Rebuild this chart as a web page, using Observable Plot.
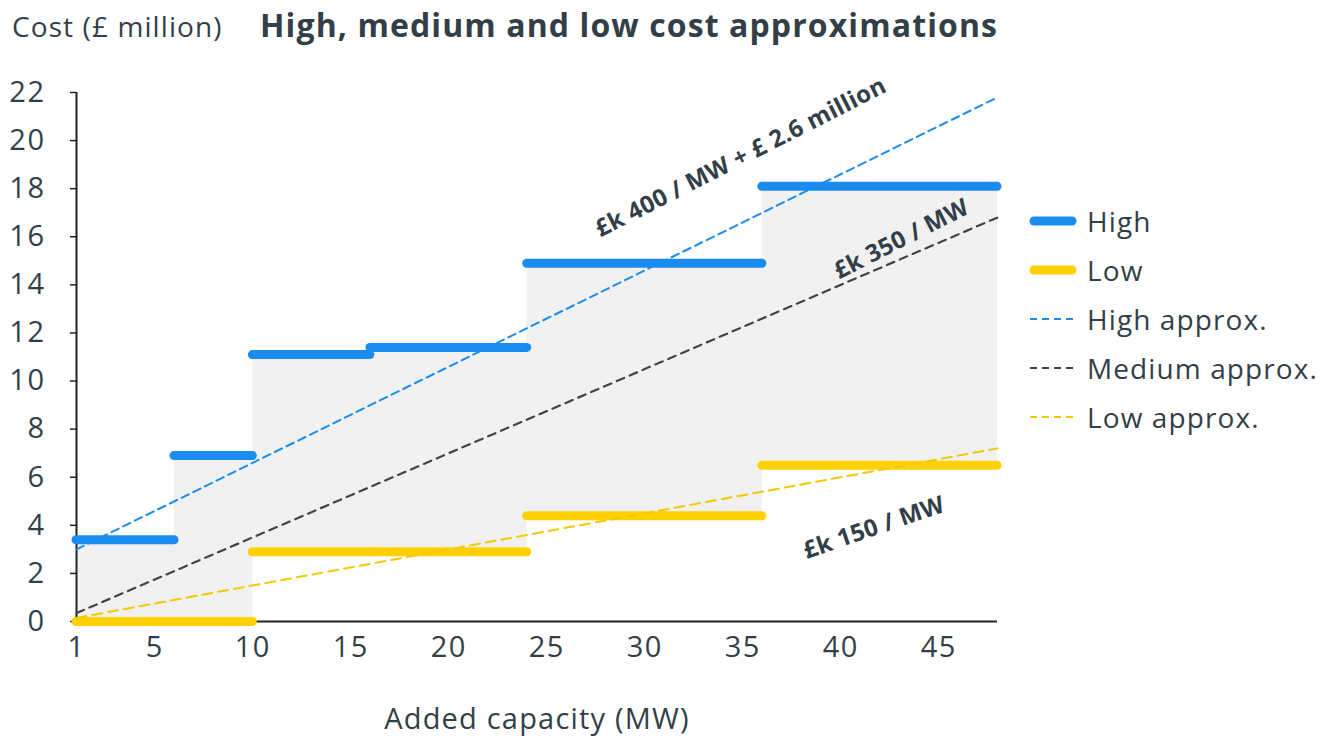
<!DOCTYPE html>
<html>
<head>
<meta charset="utf-8">
<script src="https://cdn.jsdelivr.net/npm/d3@7"></script>
<script src="https://cdn.jsdelivr.net/npm/@observablehq/plot@0.6"></script>
<style>
  body { margin: 0; background: #fff; font-family: "Open Sans", Lato, sans-serif; }
  #wrap { position: relative; width: 1335px; height: 738px; overflow: hidden; }
  .t { position: absolute; color: #333f48; white-space: nowrap; line-height: 1; }
  #legend { position: absolute; left: 1028px; top: 196px; }
  .row { display: flex; align-items: center; height: 49px; font-size: 28px; letter-spacing: 1.1px; color: #333f48; }
  .row svg { margin-right: 9px; }
  #chart { position: absolute; left: 0; top: 0; }
  #chart g[aria-label="y-axis tick label"] text, #chart g[aria-label="x-axis tick label"] text { letter-spacing: 1.5px; }
  #chart g[aria-label="text"] text { letter-spacing: 0.3px; }
</style>
</head>
<body>
<div id="wrap">
  <div class="t" style="left:12px; top:12px; font-size:28px; letter-spacing:1.1px;">Cost (£ million)</div>
  <div class="t" style="left:260px; top:9px; font-size:32px; font-weight:700; letter-spacing:1.1px;">High, medium and low cost approximations</div>
  <div class="t" style="left:537px; top:703px; font-size:29px; letter-spacing:1.2px; transform:translateX(-50%);">Added capacity (MW)</div>
  <div id="chart"></div>
  <div id="legend"></div>
</div>
<script>
// ---- data ----
const segStart = [1, 6, 10, 16, 24, 36];
const segEnd   = [6, 10, 16, 24, 36, 48];
const highCost = [3.4, 6.9, 11.1, 11.4, 14.9, 18.1];
const lowCost  = [0, 0, 2.9, 2.9, 4.4, 6.5];

const approxX      = [1, 48];
const highApprox   = [3.0, 21.8];
const mediumApprox = [0.35, 16.8];
const lowApprox    = [0.15, 7.2];

const xTicks = [1, 5, 10, 15, 20, 25, 30, 35, 40, 45];
const yTicks = [0, 2, 4, 6, 8, 10, 12, 14, 16, 18, 20, 22];

const annText = ["£k 400 / MW + £ 2.6 million", "£k 350 / MW", "£k 150 / MW"];
const annX = [34.9, 43.1, 41.7];
const annY = [19.3, 15.9, 3.9];

const legendLabels = ["High", "Low", "High approx.", "Medium approx.", "Low approx."];

// ---- styles ----
const BLUE = "#1a8cf0", YELLOW = "#ffd100", GREY = "#444", FILL = "#f1f1f1", INK = "#333f48";

// ---- derived tables ----
const segs = segStart.map((s, i) => ({x1: s, x2: segEnd[i], hi: highCost[i], lo: lowCost[i]}));
const areaRows = segStart.map((s, i) => ({x: s, lo: lowCost[i], hi: highCost[i]}));
areaRows.push({x: segEnd[segEnd.length - 1], lo: lowCost[lowCost.length - 1], hi: highCost[highCost.length - 1]});
const approxRows = (arr) => approxX.map((x, i) => ({x, y: arr[i]}));
const ann = annText.map((t, i) => ({t, x: annX[i], y: annY[i]}));

const annStyle = {x: "x", y: "y", text: "t", fontSize: 24, fontWeight: 700, fill: INK};

const chart = Plot.plot({
  width: 1335,
  height: 738,
  marginLeft: 76,
  marginRight: 338,
  marginTop: 92,
  marginBottom: 117,
  style: {fontFamily: "'Open Sans', Lato, sans-serif", fontSize: "29px", color: INK, background: "transparent"},
  x: {domain: [1, 48]},
  y: {domain: [0, 22]},
  marks: [
    Plot.areaY(areaRows, {x: "x", y1: "lo", y2: "hi", curve: "step-after", fill: FILL}),
    Plot.axisY({ticks: yTicks, tickSize: 6, tickPadding: 25, label: null, stroke: "#222", strokeWidth: 1.5}),
    Plot.axisX({ticks: xTicks, tickSize: 0, tickPadding: 15, label: null}),
    Plot.ruleX([1], {y1: 0, y2: 22, stroke: "#222", strokeWidth: 2}),
    Plot.ruleY([0], {x1: 1, x2: 48, stroke: "#222", strokeWidth: 2}),
    Plot.ruleY(segs, {x1: "x1", x2: "x2", y: "lo", stroke: YELLOW, strokeWidth: 9, strokeLinecap: "round"}),
    Plot.ruleY(segs, {x1: "x1", x2: "x2", y: "hi", stroke: BLUE, strokeWidth: 9, strokeLinecap: "round"}),
    Plot.line(approxRows(highApprox), {x: "x", y: "y", stroke: BLUE, strokeWidth: 2, strokeDasharray: "8,5"}),
    Plot.line(approxRows(mediumApprox), {x: "x", y: "y", stroke: GREY, strokeWidth: 2.2, strokeDasharray: "8,6"}),
    Plot.line(approxRows(lowApprox), {x: "x", y: "y", stroke: "#f5c800", strokeWidth: 2, strokeDasharray: "10,6"}),
    Plot.text([ann[0]], {...annStyle, rotate: -27}),
    Plot.text([ann[1]], {...annStyle, rotate: -27}),
    Plot.text([ann[2]], {...annStyle, rotate: -19})
  ]
});
document.getElementById("chart").appendChild(chart);

// ---- legend ----
const legendStyles = [
  {stroke: BLUE, w: 9, dash: null},
  {stroke: YELLOW, w: 9, dash: null},
  {stroke: BLUE, w: 2, dash: "7,5"},
  {stroke: GREY, w: 2, dash: "7,5"},
  {stroke: "#f5c800", w: 2, dash: "7,5"}
];
const leg = document.getElementById("legend");
legendLabels.forEach((lab, i) => {
  const s = legendStyles[i];
  const row = document.createElement("div");
  row.className = "row";
  row.innerHTML = `<svg width="50" height="14"><line x1="${s.dash ? 2 : 6}" y1="7" x2="${s.dash ? 48 : 44}" y2="7" stroke="${s.stroke}" stroke-width="${s.w}" stroke-linecap="${s.dash ? 'butt' : 'round'}" ${s.dash ? `stroke-dasharray="${s.dash}"` : ""}/></svg><span>${lab}</span>`;
  leg.appendChild(row);
});
</script>
</body>
</html>
